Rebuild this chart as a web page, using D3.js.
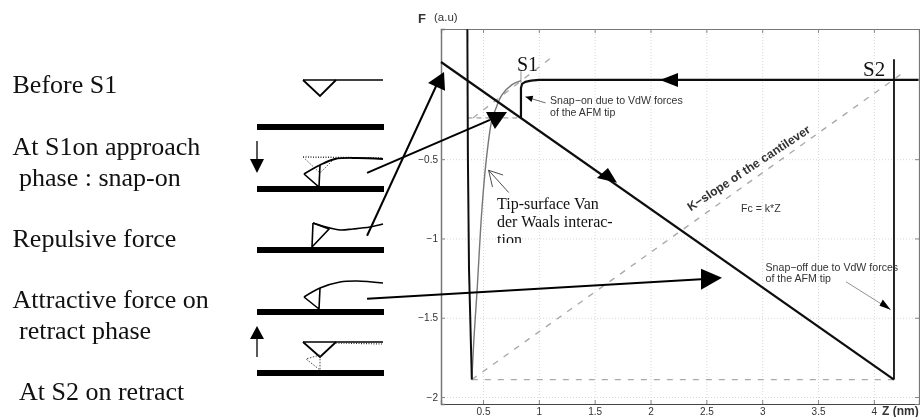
<!DOCTYPE html>
<html>
<head>
<meta charset="utf-8" />
<script src="https://d3js.org/d3.v7.min.js"></script>
<style>
  html, body { margin: 0; padding: 0; background: #fff; }
  svg { display: block; }
  .serif { font-family: "Liberation Serif", serif; fill: #111; }
  .sans { font-family: "Liberation Sans", sans-serif; fill: #333; }
</style>
</head>
<body>
<svg id="chart" width="920" height="417"></svg>
<script>
// chart values, z in nm and F in a.u.
const xTicks = [0.5, 1, 1.5, 2, 2.5, 3, 3.5, 4];
const yTicks = [-0.5, -1, -1.5, -2];
const yTickLabels = ["\u22120.5", "\u22121", "\u22121.5", "\u22122"];

const approachCurve = [[4.4, 0], [1.0, 0], [0.93, -0.005], [0.88, -0.012], [0.85, -0.025], [0.84, -0.05], [0.84, -0.24]];
const diagonalLine = [[0.124, 0.113], [4.18, -1.89]];
const snapOffLine = [[4.18, -1.89], [4.18, 0.13]];
const contactLine = [[0.36, 0.32], [0.365, -0.5], [0.375, -1.2], [0.40, -1.89]];
const vdwCurve = [[0.40, -1.89], [0.42, -1.62], [0.446, -1.34], [0.49, -0.82], [0.53, -0.5], [0.58, -0.25], [0.61, -0.19], [0.67, -0.095], [0.76, -0.03], [0.84, -0.005]];
const s1Tick = [[0.84, 0.055], [0.84, -0.02]];
const slopeDash = [[0.40, -1.89], [4.26, 0.044]];
const slopeDashS1 = [[0.41, -0.24], [1.12, 0.145]];
const levelDashS1 = [[0.36, -0.24], [0.84, -0.24]];
const levelDashBottom = [[0.40, -1.89], [4.18, -1.89]];

// big arrows, also in chart units
const arrowSnapOn = [[-0.538, -0.586], [0.563, -0.252]];
const headSnapOn = [[0.715, -0.202], [0.527, -0.202], [0.607, -0.309]];
const arrowRepulsive = [[-0.538, -0.983], [0.097, -0.013]];
const headRepulsive = [[0.151, 0.05], [0.008, -0.019], [0.16, -0.069]];
const arrowAttractive = [[-0.538, -1.38], [2.452, -1.257]];
const headAttractive = [[2.64, -1.248], [2.452, -1.191], [2.452, -1.323]];
const headApproach = [[2.085, 0], [2.246, 0.044], [2.246, -0.044]];
const headRetract = [[1.52, -0.618], [1.619, -0.555], [1.70, -0.649]];

// thin pointers
const pointerSnapOn = [[1.06, -0.145], [0.88, -0.107]];
const pointerSnapOnHead = [[0.88, -0.107], [0.95, -0.10], [0.935, -0.14]];
const pointerVdw = [[0.73, -0.71], [0.55, -0.57]];
const pointerVdwBarbs = [[0.68, -0.6], [0.55, -0.57], [0.585, -0.675]];
const pointerSnapOff = [[3.75, -1.273], [4.15, -1.45]];
const pointerSnapOffHead = [[4.15, -1.45], [4.05, -1.425], [4.08, -1.385]];

// schematics, px from the left end / top of each little drawing
const slabs = [124, 186, 247, 309, 370];
const before = [[46, 80], [126, 80]];
const beforeTip = [[46, 80], [63, 96], [79, 80]];
const s1Ghost = [[46, 157], [126, 158]];
const s1GhostTip = [[46, 157], [63, 173], [78, 158]];
const s1Beam = [[126, 159], [100, 158], [78, 159], [63, 165], [47, 174]];
const s1Tip = [[47, 174], [62, 187], [63, 165]];
const repBeam = [[126, 224], [113, 227], [96, 229], [83, 230], [73, 228], [56, 223]];
const repTip = [[56, 223], [72, 229], [55, 247], [56, 223]];
const attBeam = [[126, 283], [100, 281], [83, 282], [63, 288], [47, 297]];
const attTip = [[47, 297], [62, 309], [63, 288]];
const retBeam = [[46, 342], [126, 342]];
const retTip = [[46, 342], [63, 357], [79, 342]];
const retGhost = [[79, 343], [126, 344]];
const retGhostTip = [[63, 355], [49, 359], [63, 370], [63, 355]];
const downShaft = [[0, 141], [0, 159]];
const downHead = [[-7, 159], [7, 159], [0, 173]];
const upShaft = [[0, 357], [0, 339]];
const upHead = [[-7, 339], [7, 339], [0, 326]];

const leftLabels = [
  { t: "Before S1", x: 12.5, y: 93 },
  { t: "At S1on approach", x: 12.5, y: 155 },
  { t: "phase : snap-on", x: 19, y: 186 },
  { t: "Repulsive force", x: 12.5, y: 247 },
  { t: "Attractive force on", x: 12.5, y: 308 },
  { t: "retract phase", x: 19, y: 339 },
  { t: "At S2 on retract", x: 19, y: 400 }
];

const margin = { left: 441, right: 919, top: 29, bottom: 404 };
const svg = d3.select("#chart");

const x = d3.scaleLinear().domain([0.124, 4.404]).range([margin.left, margin.right]);
const y = d3.scaleLinear().domain([-2.044, 0.321]).range([margin.bottom, margin.top]);
const sx = d3.scaleLinear().domain([0, 127]).range([257, 384]);
const sy = d3.scaleLinear().domain([0, 417]).range([0, 417]);

const plain = d3.line().x((d) => x(d[0])).y((d) => y(d[1]));
const sketchLine = d3.line().x((d) => sx(d[0])).y((d) => sy(d[1]));
const sketchCurve = d3.line().x((d) => sx(d[0])).y((d) => sy(d[1])).curve(d3.curveCatmullRom);

const defs = svg.append("defs");
defs.append("filter").attr("id", "soft")
  .append("feGaussianBlur").attr("stdDeviation", 0.35);
defs.append("clipPath").attr("id", "tionClip")
  .append("rect").attr("x", 490).attr("y", 195).attr("width", 140).attr("height", 48);

const plot = svg.append("g").attr("filter", "url(#soft)");

// dotted grid
const h = margin.bottom - margin.top;
const w = margin.right - margin.left;
const gridX = plot.append("g").attr("transform", `translate(0,${margin.bottom})`)
  .call(d3.axisBottom(x).tickValues(xTicks).tickSize(-h).tickFormat(""));
const gridY = plot.append("g").attr("transform", `translate(${margin.left},0)`)
  .call(d3.axisLeft(y).tickValues(yTicks).tickSize(-w).tickFormat(""));
[gridX, gridY].forEach((g) => {
  g.select(".domain").remove();
  g.selectAll("line").attr("stroke", "#d8d8d8").attr("stroke-width", 1).attr("stroke-dasharray", "1,2");
});

// frame with inner ticks
const axB = plot.append("g").attr("transform", `translate(0,${margin.bottom})`)
  .call(d3.axisBottom(x).tickValues(xTicks).tickSize(-4).tickPadding(4).tickFormat(d3.format("")));
const axL = plot.append("g").attr("transform", `translate(${margin.left},0)`)
  .call(d3.axisLeft(y).tickValues(yTicks).tickSize(-4).tickPadding(3).tickFormat((d, i) => yTickLabels[i]));
const axT = plot.append("g").attr("transform", `translate(0,${margin.top})`)
  .call(d3.axisTop(x).tickValues(xTicks).tickSize(-4).tickFormat(""));
const axR = plot.append("g").attr("transform", `translate(${margin.right},0)`)
  .call(d3.axisRight(y).tickValues(yTicks).tickSize(-4).tickFormat(""));
[axB, axL, axT, axR].forEach((g) => {
  g.select(".domain").attr("stroke", "#777").attr("stroke-width", 1.2);
  g.selectAll("line").attr("stroke", "#888");
  g.selectAll("text").attr("class", "sans").attr("font-size", 10).attr("fill", "#333");
});
axB.select(".domain").attr("stroke", "#444");
axL.select(".domain").attr("stroke-width", 1.5);

const stroke = (g, data, color, width, dash, gen) =>
  g.append("path").attr("d", (gen || plain)(data)).attr("fill", "none")
    .attr("stroke", color).attr("stroke-width", width).attr("stroke-dasharray", dash || null);
const fillPoly = (g, data, gen) =>
  g.append("path").attr("d", (gen || plain)(data) + "Z").attr("fill", "#000");

// dashed guides under the curves
[slopeDash, slopeDashS1, levelDashBottom].forEach((d) => stroke(plot, d, "#aaa", 1.4, "6,7"));
stroke(plot, levelDashS1, "#888", 1, "5,4");

// curves
stroke(plot, vdwCurve, "#777", 1.4, null, d3.line().x((d) => x(d[0])).y((d) => y(d[1])).curve(d3.curveCatmullRom));
stroke(plot, contactLine, "#111", 2);
stroke(plot, approachCurve, "#111", 2.2);
stroke(plot, diagonalLine, "#111", 2.2);
stroke(plot, snapOffLine, "#111", 1.8);
stroke(plot, s1Tick, "#777", 0.8);

// thin pointers
stroke(plot, pointerSnapOn, "#444", 0.8);
fillPoly(plot, pointerSnapOnHead);
stroke(plot, pointerVdw, "#222", 0.8);
stroke(plot, pointerVdwBarbs, "#222", 0.8);
stroke(plot, pointerSnapOff, "#777", 0.8);
fillPoly(plot, pointerSnapOffHead);

// small chart text
const chartText = [
  { t: "Snap\u2212on due to VdW forces", zx: 1.10, zy: -0.15 },
  { t: "of the AFM tip", zx: 1.10, zy: -0.225 },
  { t: "Snap\u2212off due to VdW forces", zx: 3.03, zy: -1.204 },
  { t: "of the AFM tip", zx: 3.03, zy: -1.273 },
  { t: "Fc = k*Z", zx: 2.81, zy: -0.832 }
];
plot.selectAll("text.note").data(chartText).enter().append("text")
  .attr("class", "note sans").attr("font-size", 10.6)
  .attr("x", (d) => x(d.zx)).attr("y", (d) => y(d.zy)).text((d) => d.t);

plot.append("text").attr("class", "sans").attr("font-size", 12.2).attr("font-weight", "bold")
  .attr("fill", "#222")
  .attr("transform", `translate(${x(2.36)},${y(-0.83)}) rotate(-33.5)`)
  .text("K\u2212slope of the cantilever");

plot.append("text").attr("class", "sans").attr("font-size", 13).attr("font-weight", "bold")
  .attr("x", 418).attr("y", 23).text("F");
plot.append("text").attr("class", "sans").attr("font-size", 11.5)
  .attr("x", 434).attr("y", 21).text("(a.u)");
plot.append("text").attr("class", "sans").attr("font-size", 12).attr("font-weight", "bold")
  .attr("fill", "#111").attr("x", 882).attr("y", 415).text("Z (nm)");

// overlays pasted on top of the figure
const over = svg.append("g");

[[arrowSnapOn, headSnapOn], [arrowRepulsive, headRepulsive], [arrowAttractive, headAttractive]].forEach(([a, hd]) => {
  stroke(over, a, "#000", 2);
  fillPoly(over, hd);
});
fillPoly(over, headApproach);
fillPoly(over, headRetract);

over.append("text").attr("class", "serif").attr("font-size", 20).attr("x", 517).attr("y", 71).text("S1");
over.append("text").attr("class", "serif").attr("font-size", 21).attr("x", 863).attr("y", 76).text("S2");

const tipNote = over.append("g").attr("clip-path", "url(#tionClip)");
tipNote.selectAll("text").data(["Tip-surface Van", "der Waals interac-", "tion"]).enter().append("text")
  .attr("class", "serif").attr("font-size", 16).attr("x", 497)
  .attr("y", (d, i) => 209 + i * 18).text((d) => d);

over.selectAll("text.left").data(leftLabels).enter().append("text")
  .attr("class", "left serif").attr("font-size", 26)
  .attr("x", (d) => d.x).attr("y", (d) => d.y).text((d) => d.t);

// schematics
const sk = svg.append("g");
sk.selectAll("rect").data(slabs).enter().append("rect")
  .attr("x", sx(0)).attr("width", sx(127) - sx(0))
  .attr("y", (d) => sy(d)).attr("height", sy(6) - sy(0)).attr("fill", "#000");

stroke(sk, before, "#000", 1.3, null, sketchLine);
stroke(sk, beforeTip, "#000", 1.8, null, sketchLine);
stroke(sk, s1Ghost, "#333", 1.5, "1,1.5", sketchLine);
stroke(sk, s1GhostTip, "#333", 0.8, "1.5,1.5", sketchLine);
stroke(sk, s1Beam, "#000", 1.8, null, sketchCurve);
stroke(sk, s1Tip, "#000", 1.6, null, sketchLine);
stroke(sk, repBeam, "#000", 1.6, null, sketchCurve);
stroke(sk, repTip, "#000", 1.6, null, sketchLine);
stroke(sk, attBeam, "#000", 1.6, null, sketchCurve);
stroke(sk, attTip, "#000", 1.6, null, sketchLine);
stroke(sk, retBeam, "#000", 1.5, null, sketchLine);
stroke(sk, retTip, "#000", 1.8, null, sketchLine);
stroke(sk, retGhost, "#333", 1.2, "1,1.5", sketchLine);
stroke(sk, retGhostTip, "#333", 0.9, "1.5,1.5", sketchLine);
stroke(sk, downShaft, "#000", 1.3, null, sketchLine);
fillPoly(sk, downHead, sketchLine);
stroke(sk, upShaft, "#000", 1.3, null, sketchLine);
fillPoly(sk, upHead, sketchLine);
</script>
</body>
</html>
